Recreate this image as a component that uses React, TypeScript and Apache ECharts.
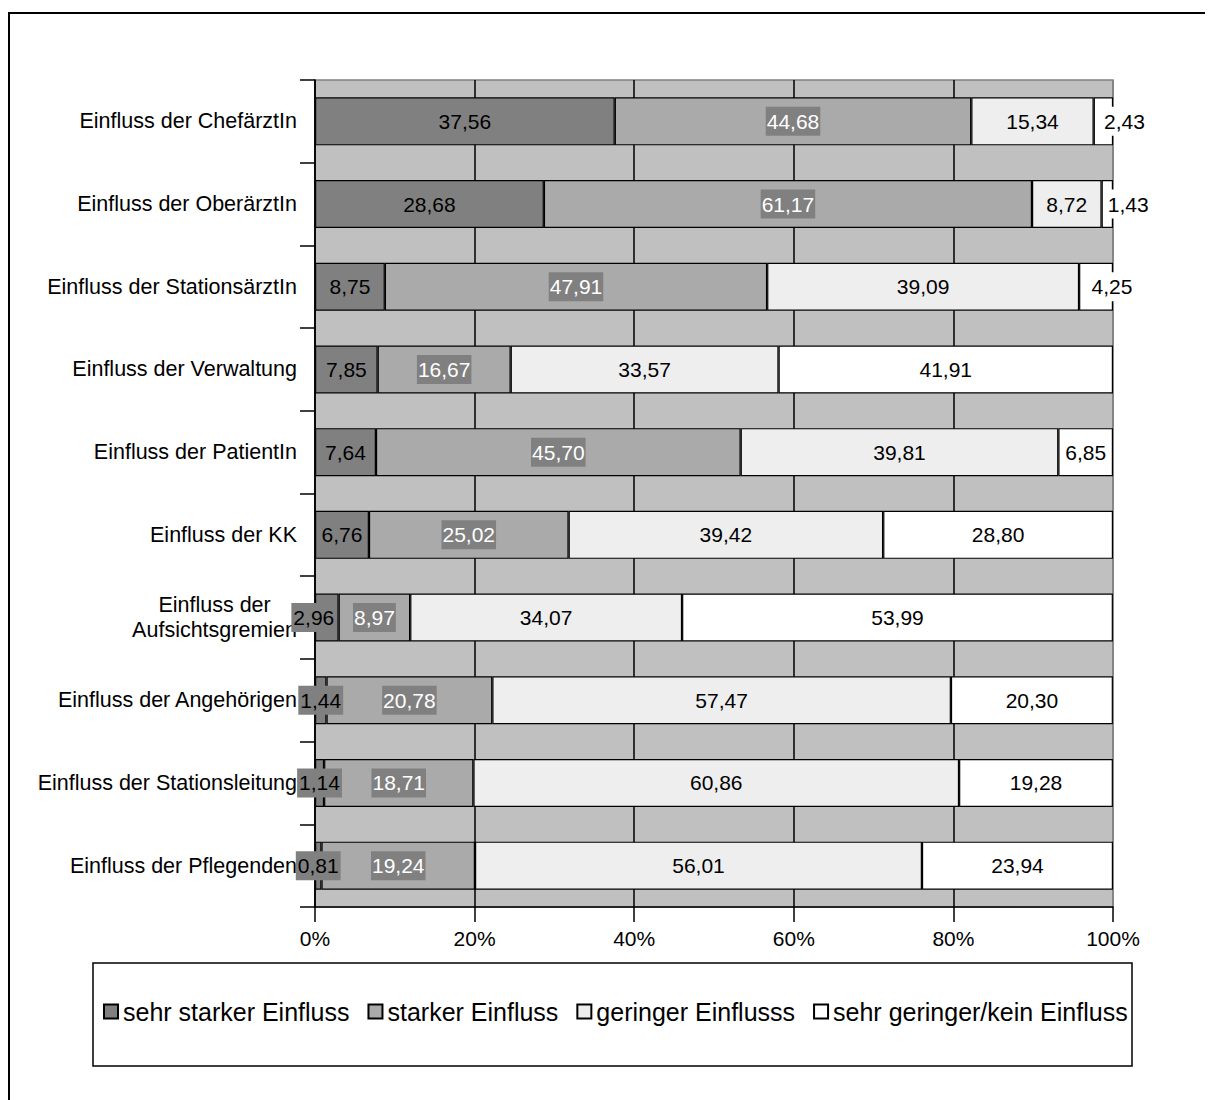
import React, { useEffect, useRef } from "react";
import * as echarts from "echarts";

const categories = [
  "Einfluss der ChefärztIn",
  "Einfluss der OberärztIn",
  "Einfluss der StationsärztIn",
  "Einfluss der Verwaltung",
  "Einfluss der PatientIn",
  "Einfluss der KK",
  "Einfluss der\nAufsichtsgremien",
  "Einfluss der Angehörigen",
  "Einfluss der Stationsleitung",
  "Einfluss der Pflegenden",
];
const seriesNames = [
  "sehr starker Einfluss",
  "starker Einfluss",
  "geringer Einflusss",
  "sehr geringer/kein Einfluss",
];
const sehrStark = [37.56, 28.68, 8.75, 7.85, 7.64, 6.76, 2.96, 1.44, 1.14, 0.81];
const stark = [44.68, 61.17, 47.91, 16.67, 45.7, 25.02, 8.97, 20.78, 18.71, 19.24];
const gering = [15.34, 8.72, 39.09, 33.57, 39.81, 39.42, 34.07, 57.47, 60.86, 56.01];
const sehrGering = [2.43, 1.43, 4.25, 41.91, 6.85, 28.8, 53.99, 20.3, 19.28, 23.94];
const xTicks = [0, 20, 40, 60, 80, 100];

const FONT = "'Liberation Sans', Arial, sans-serif";
const colors = ["#808080", "#aaaaaa", "#eeeeee", "#ffffff"];
const labelStyles = [
  { color: "#000", backgroundColor: "#808080", padding: [4, 2] },
  { color: "#fff", backgroundColor: "#808080", padding: [4, 1] },
  { color: "#000", padding: [4, 1] },
  { color: "#000", backgroundColor: "#fff", padding: [4, 1] },
];
// label shifts (Excel pushes some small labels sideways)
const labelShift: Record<string, number> = { "0-6": -13, "3-0": 21, "3-1": 21, "3-2": 16 };

const fmt = (v: number) => v.toFixed(2).replace(".", ",");

export default function App() {
  const ref = useRef<HTMLDivElement>(null);
  useEffect(() => {
    if (!ref.current) return;
    const chart = echarts.init(ref.current, null, { renderer: "svg" });
    const all = [sehrStark, stark, gering, sehrGering];
    const series = all.map((arr, si) => ({
      name: seriesNames[si],
      type: "bar",
      stack: "total",
      barWidth: 48,
      itemStyle: { color: colors[si], borderColor: "#000", borderWidth: 1.2 },
      label: {
        show: true,
        position: "inside",
        fontFamily: FONT,
        fontSize: 21,
        formatter: (p: any) => fmt(p.value),
        ...labelStyles[si],
      },
      data: arr.map((v, i) => {
        const sh = labelShift[`${si}-${i}`];
        return sh ? { value: v, label: { offset: [sh, 0] } } : v;
      }),
    }));
    chart.setOption({
      animation: false,
      textStyle: { fontFamily: FONT },
      grid: {
        left: 307,
        top: 72,
        width: 798,
        height: 827,
        show: true,
        backgroundColor: "#c0c0c0",
        borderColor: "#808080",
        borderWidth: 1.5,
      },
      xAxis: {
        type: "value",
        min: 0,
        max: 100,
        interval: 20,
        axisLine: { show: true, lineStyle: { color: "#000", width: 1.5 } },
        axisTick: { show: true, length: 15, lineStyle: { color: "#000", width: 1.5 } },
        axisLabel: {
          fontFamily: FONT,
          fontSize: 21,
          color: "#000",
          margin: 21,
          formatter: (v: number) => (xTicks.includes(v) ? v + "%" : ""),
        },
        splitLine: {
          show: true,
          lineStyle: { color: ["#000", "#000", "#000", "#000", "#000", "#808080"], width: 1.5 },
        },
      },
      yAxis: {
        type: "category",
        inverse: true,
        data: categories,
        axisLine: { show: true, lineStyle: { color: "#000", width: 1.5 } },
        axisTick: { show: true, length: 15, lineStyle: { color: "#000", width: 1.5 } },
        axisLabel: {
          fontFamily: FONT,
          fontSize: 21.5,
          color: "#000",
          margin: 18,
          formatter: (v: string) =>
            v.includes("\n") ? v.split("\n").map((l) => `{c|${l}}`).join("\n") : v,
          rich: {
            c: { align: "center", fontFamily: FONT, fontSize: 21.5, lineHeight: 25, color: "#000" },
          },
        },
        splitLine: { show: false },
      },
      legend: {
        left: 90,
        top: 986,
        itemWidth: 14,
        itemHeight: 14,
        itemGap: 18,
        icon: "rect",
        textStyle: { fontFamily: FONT, fontSize: 25, color: "#000" },
        data: seriesNames,
      },
      graphic: [
        {
          type: "rect",
          shape: { x: 1, y: 5, width: 1400, height: 1300 },
          style: { fill: "none", stroke: "#000", lineWidth: 2 },
          silent: true,
        },
        {
          type: "rect",
          shape: { x: 85, y: 955, width: 1039, height: 103 },
          style: { fill: "none", stroke: "#000", lineWidth: 1.5 },
          silent: true,
        },
      ],
      series,
    });
    return () => chart.dispose();
  }, []);
  return <div ref={ref} style={{ width: 1205, height: 1092 }} />;
}
